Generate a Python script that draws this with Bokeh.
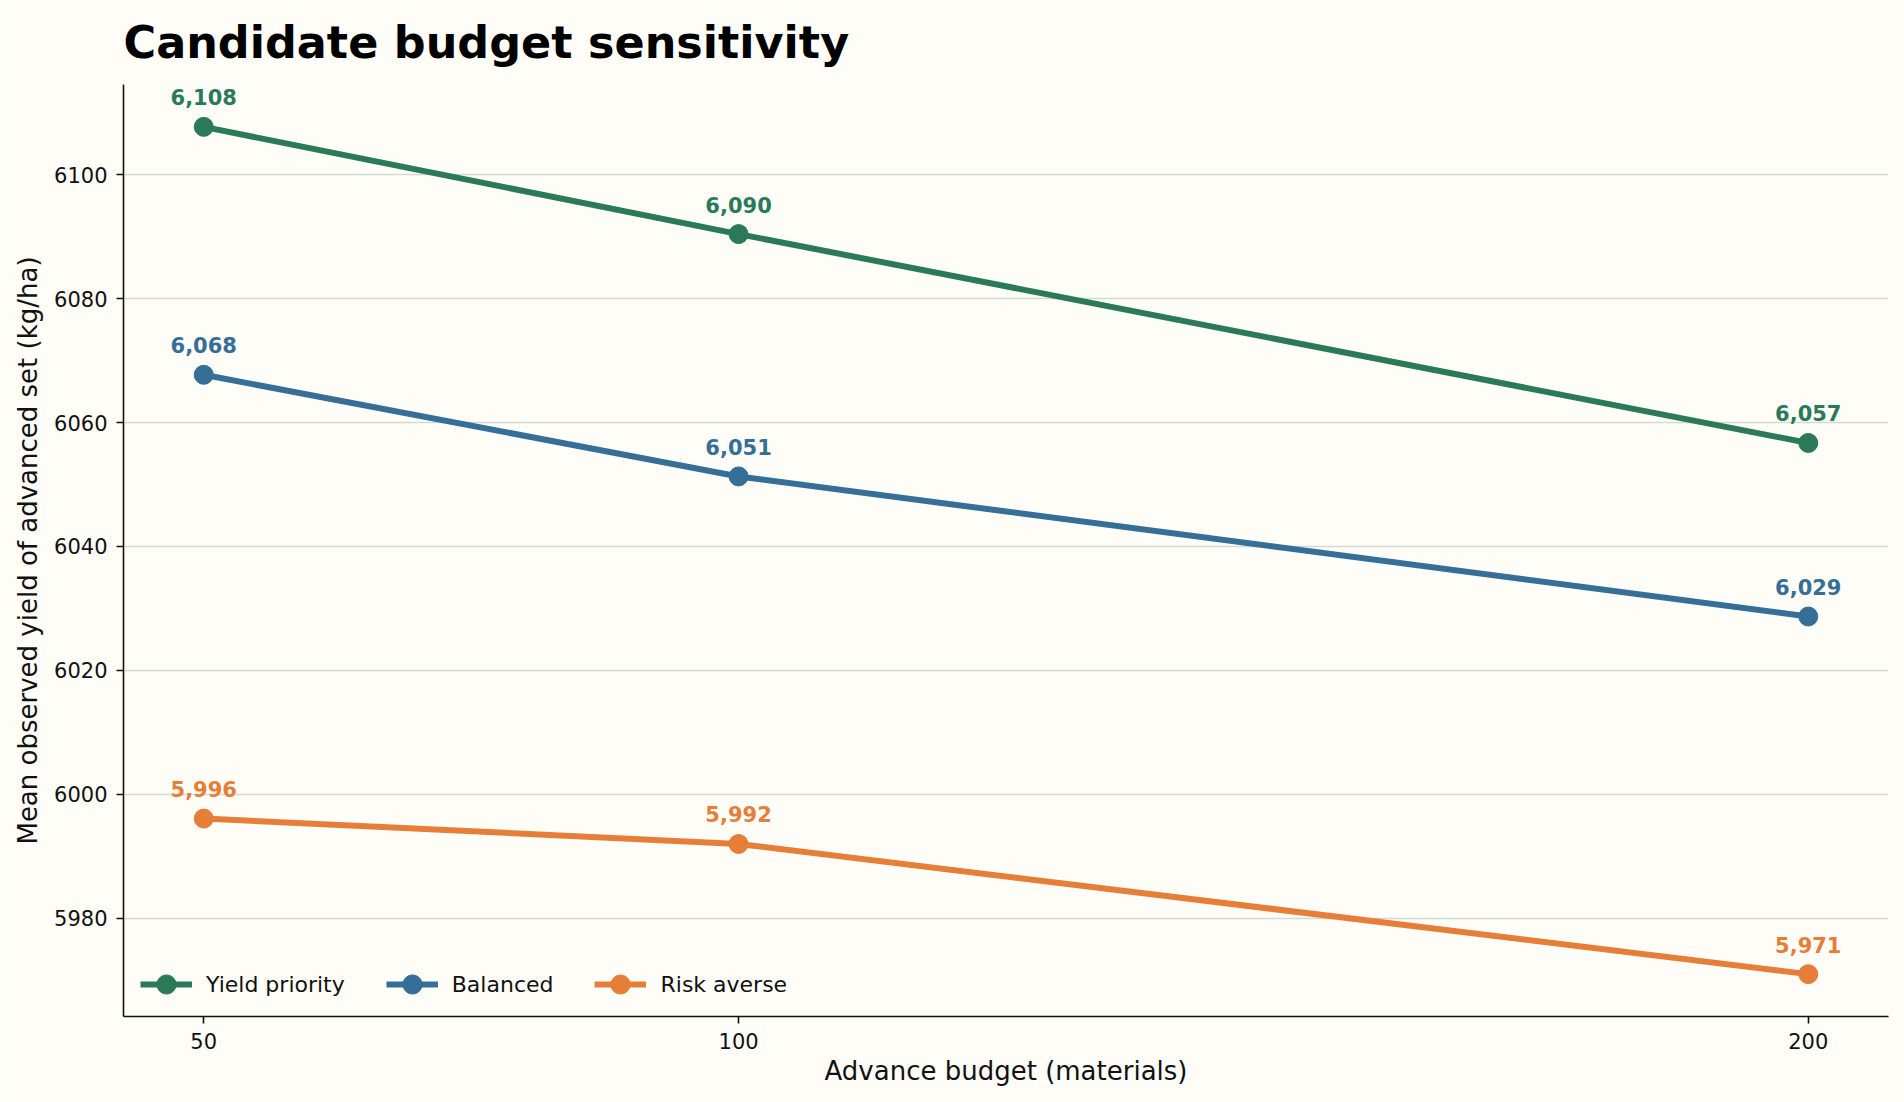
from bokeh.plotting import figure
from bokeh.embed import file_html
from bokeh.resources import INLINE
from bokeh.models import ColumnDataSource, FixedTicker, Range1d, Legend
from bokeh.core.properties import value

budgets = [50, 100, 200]
yield_priority = [6107.7, 6090.4, 6056.7]
balanced = [6067.7, 6051.3, 6028.7]
risk_averse = [5996.1, 5992.0, 5971.0]
series_names = ["Yield priority", "Balanced", "Risk averse"]
series_colors = ["#2a7a5a", "#356e96", "#e67e37"]
y_ticks = [5980, 6000, 6020, 6040, 6060, 6080, 6100]

FONT = "DejaVu Sans"
BG = "#fffdf8"

all_y = yield_priority + balanced + risk_averse
ypad = (max(all_y) - min(all_y)) * 0.05
xpad = (max(budgets) - min(budgets)) * 0.05

p = figure(width=1904, height=1102, output_backend="svg", toolbar_location=None,
           x_range=Range1d(min(budgets) - xpad, max(budgets) + xpad),
           y_range=Range1d(min(all_y) - ypad, max(all_y) + ypad),
           min_border_left=123, min_border_right=16, min_border_top=84, min_border_bottom=86,
           background_fill_color=BG, border_fill_color=BG)

p.title.text = "Candidate budget sensitivity"
p.title.text_font = FONT
p.title.text_font_size = "44.5px"
p.title.text_font_style = "bold"
p.title.text_color = "#000000"
p.title.align = "left"
p.title.vertical_align = "top"
p.title.offset = 0
p.title.standoff = 29

p.outline_line_color = None
p.xgrid.grid_line_color = None
p.ygrid.grid_line_color = "#d3dcd3"
p.ygrid.grid_line_width = 1.5
p.ygrid.ticker = FixedTicker(ticks=y_ticks)

for ax in (p.xaxis[0], p.yaxis[0]):
    ax.axis_line_color = "#111111"
    ax.axis_line_width = 1.6
    ax.major_tick_line_color = "#111111"
    ax.major_tick_line_width = 1.6
    ax.major_tick_out = 7
    ax.major_tick_in = 0
    ax.minor_tick_line_color = None
    ax.major_label_text_font = FONT
    ax.major_label_text_font_size = "21px"
    ax.major_label_text_color = "#111111"
    ax.axis_label_text_font = FONT
    ax.axis_label_text_font_size = "26px"
    ax.axis_label_text_font_style = "normal"
    ax.axis_label_text_color = "#111111"

p.xaxis.ticker = FixedTicker(ticks=budgets)
p.yaxis.ticker = FixedTicker(ticks=y_ticks)
p.xaxis.axis_label = "Advance budget (materials)"
p.yaxis.axis_label = "Mean observed yield of advanced set (kg/ha)"
p.xaxis.major_label_standoff = 9
p.yaxis.major_label_standoff = 9
p.xaxis.axis_label_standoff = 4
p.yaxis.axis_label_standoff = 8

items = []
for name, vals, col in zip(series_names, [yield_priority, balanced, risk_averse], series_colors):
    src = ColumnDataSource(dict(x=budgets, y=vals, lab=[f"{v:,.0f}" for v in vals]))
    r1 = p.line("x", "y", source=src, line_color=col, line_width=6)
    r2 = p.scatter("x", "y", source=src, size=19, fill_color=col, line_color=col)
    p.text("x", "y", text="lab", source=src, text_color=col, text_font=value(FONT),
           text_font_size="21px", text_font_style="bold", text_align="center",
           text_baseline="alphabetic", y_offset=-29.5)
    items.append((name, [r1, r2]))

legend = Legend(items=items, orientation="horizontal", location=(17, 8),
                background_fill_alpha=0, border_line_color=None,
                padding=0, margin=0, spacing=41, label_standoff=14,
                glyph_width=52, glyph_height=48,
                label_text_font=FONT, label_text_font_size="22px", label_text_color="#111111")
p.add_layout(legend, "center")

open("out.html", "w").write(file_html(p, INLINE))
